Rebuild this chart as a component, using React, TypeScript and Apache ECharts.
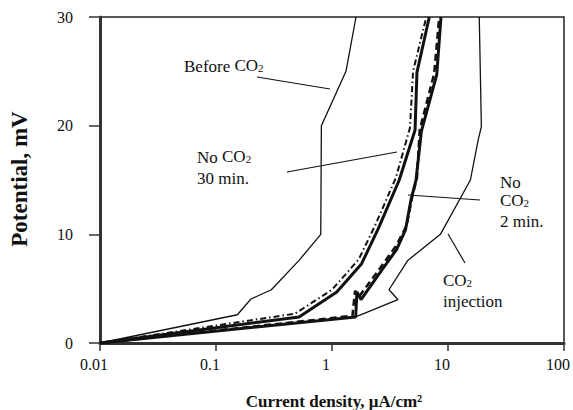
import React, { useEffect, useRef } from "react";
import * as echarts from "echarts";

// current density (µA/cm²), potential (mV)
const beforeCO2: number[][] = [[0.01, 0], [0.153, 2.6], [0.2, 4.05], [0.3, 4.9], [0.52, 7.6], [0.8, 10], [0.81, 20], [1.32, 25], [1.61, 30]];
const co2Injection: number[][] = [[0.01, 0], [1.6, 2.4], [3.7, 4.0], [3.1, 4.9], [4.5, 7.6], [8.6, 10], [15.6, 15], [18.2, 18.7], [19.4, 19.9], [18.6, 30]];
const noCO2_30min: number[][] = [[0.01, 0], [0.52, 2.4], [1.1, 4.7], [1.8, 7.3], [2.5, 10.5], [3.8, 15], [5.2, 19.6], [5.4, 24.9], [6.9, 30]];
const noCO2_30min_b: number[][] = [[0.01, 0], [0.48, 2.7], [1.0, 4.9], [1.7, 7.7], [2.35, 10.8], [3.55, 15.2], [4.7, 19.8], [5.0, 25], [6.5, 30]];
const noCO2_2min: number[][] = [[0.01, 0], [1.6, 2.4], [1.64, 4.7], [1.78, 4.0], [2.6, 6.5], [3.6, 8.6], [4.3, 10.4], [4.8, 13.2], [5.3, 15], [5.9, 19.5], [8.0, 24.7], [8.7, 30]];
const noCO2_2min_b: number[][] = [[0.01, 0], [1.5, 2.5], [1.58, 4.8], [1.72, 4.3], [2.6, 6.9], [3.6, 9.0], [4.4, 10.8], [4.9, 13.4], [5.4, 15.2], [5.7, 19.6], [7.6, 24.8], [8.4, 30]];

const yTicks = [0, 10, 20, 30];
const xTicks = [0.01, 0.1, 1, 10, 100];

const FONT = "Liberation Serif";
const INK = "#111";

const richSub = {
  n: { fontSize: 17, fontFamily: FONT, color: INK, lineHeight: 19, verticalAlign: "top" },
  s: { fontSize: 11, fontFamily: FONT, color: INK, lineHeight: 19, verticalAlign: "top", padding: [6, 0, 0, 0] },
};

function label(text: string, x: number, y: number) {
  return {
    type: "text",
    x,
    y,
    style: { text, rich: richSub, fill: INK, font: `17px "${FONT}"`, verticalAlign: "middle", align: "left" },
  };
}

function leader(x1: number, y1: number, x2: number, y2: number) {
  return { type: "line", shape: { x1, y1, x2, y2 }, style: { stroke: INK, lineWidth: 1.2 } };
}

export default function App() {
  const ref = useRef<HTMLDivElement>(null);
  useEffect(() => {
    if (!ref.current) return;
    const chart = echarts.init(ref.current, null, { renderer: "svg" });
    const line = (data: number[][], width: number, type: any) => ({
      type: "line",
      data,
      showSymbol: false,
      symbol: "none",
      lineStyle: { color: INK, width, type },
      clip: true,
    });
    chart.setOption({
      animation: false,
      backgroundColor: "#fff",
      grid: { left: 100, right: 7, top: 17, bottom: 67, show: true, borderColor: "#222", borderWidth: 1.5 },
      xAxis: {
        type: "log",
        logBase: 10,
        min: xTicks[0],
        max: xTicks[xTicks.length - 1],
        axisLine: { show: true, lineStyle: { color: "#333", width: 3 } },
        axisTick: { show: true, inside: false, length: 8, lineStyle: { color: "#333", width: 1.5 } },
        axisLabel: { fontFamily: FONT, fontSize: 16, color: INK, margin: 13, padding: [0, 12, 0, 0], formatter: (v: number) => String(v) },
        splitLine: { show: false },
        minorTick: { show: false },
      },
      yAxis: {
        type: "value",
        min: yTicks[0],
        max: yTicks[yTicks.length - 1],
        interval: 10,
        axisLine: { show: true, lineStyle: { color: "#333", width: 3 } },
        axisTick: { show: true, inside: false, length: 11, lineStyle: { color: "#333", width: 1.5 } },
        axisLabel: { fontFamily: FONT, fontSize: 16, color: INK, margin: 27 },
        splitLine: { show: false },
      },
      series: [
        line(beforeCO2, 1.3, "solid"),
        line(co2Injection, 1.3, "solid"),
        line(noCO2_30min_b, 2, [6, 3, 1.5, 3]),
        line(noCO2_30min, 3, "solid"),
        line(noCO2_2min_b, 2.5, [7, 4]),
        line(noCO2_2min, 3, "solid"),
      ],
      graphic: [
        {
          type: "text",
          x: 19,
          y: 179,
          rotation: Math.PI / 2,
          style: { text: "Potential, mV", font: `bold 23px "${FONT}"`, fill: INK, align: "center", verticalAlign: "middle" },
        },
        {
          type: "text",
          x: 334,
          y: 401,
          style: { text: "Current density, μA/cm²", font: `bold 17px "${FONT}"`, fill: INK, align: "center", verticalAlign: "middle" },
        },
        label("Before {n|CO}{s|2}", 184, 66),
        leader(257, 77, 330, 89),
        label("No {n|CO}{s|2}", 197, 157),
        label("30 min.", 197, 178),
        leader(287, 172, 397, 152),
        label("No", 500, 182),
        label("{n|CO}{s|2}", 500, 201),
        label("2 min.", 500, 221),
        leader(408, 195, 480, 200),
        label("{n|CO}{s|2}", 443, 281),
        label("injection", 443, 301),
        leader(448, 234, 465, 263),
      ],
    });
    return () => chart.dispose();
  }, []);
  return <div ref={ref} style={{ width: 573, height: 410, position: "absolute", left: 0, top: 0 }} />;
}
